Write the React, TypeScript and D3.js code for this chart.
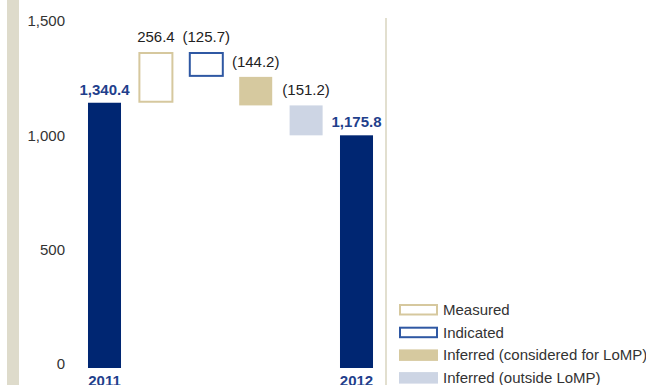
import React from "react";
import * as d3 from "d3";

const categories = ["2011", "Measured", "Indicated", "Inferred (considered for LoMP)", "Inferred (outside LoMP)", "2012"];
const kinds = ["total", "delta", "delta", "delta", "delta", "total"];
const values = [1340.4, 256.4, -125.7, -144.2, -151.2, 1175.8];
const valueLabels = ["1,340.4", "256.4", "(125.7)", "(144.2)", "(151.2)", "1,175.8"];
const tickValues = [0, 500, 1000, 1500];
const legendItems = ["Measured", "Indicated", "Inferred (considered for LoMP)", "Inferred (outside LoMP)"];

const W = 646;
const H = 385;
const FONT = "'Liberation Sans', Arial, Helvetica, sans-serif";

const styles: Record<string, { fill: string; stroke: string }> = {
  "2011": { fill: "#002672", stroke: "none" },
  "2012": { fill: "#002672", stroke: "none" },
  Measured: { fill: "#ffffff", stroke: "#d6c89e" },
  Indicated: { fill: "#ffffff", stroke: "#2f58a3" },
  "Inferred (considered for LoMP)": { fill: "#d6c99f", stroke: "none" },
  "Inferred (outside LoMP)": { fill: "#cdd5e4", stroke: "none" },
};

export default function App() {
  const x = d3
    .scaleBand<string>()
    .domain(categories)
    .range([79.3, 381.7])
    .paddingInner(0.345)
    .paddingOuter(0.1725);
  // data scale
  const y = d3.scaleLinear().domain([0, 1596.8]).range([368, 52]);
  // axis label scale
  const yAxis = d3.scaleLinear().domain([0, 1500]).range([364, 21]);

  let running = 0;
  const bars = categories.map((c, i) => {
    let lo: number, hi: number;
    if (kinds[i] === "total") {
      lo = 0;
      hi = values[i];
      running = values[i];
    } else {
      const start = running;
      const end = running + values[i];
      lo = Math.min(start, end);
      hi = Math.max(start, end);
      running = end;
    }
    return { c, i, lo, hi };
  });

  const bw = x.bandwidth();

  return (
    <svg width={W} height={H} style={{ position: "absolute", left: 0, top: 0 }}>
      <rect x={0} y={0} width={W} height={H} fill="#ffffff" />
      <rect x={7} y={0} width={12} height={H} fill="#dedbcb" />
      <line x1={386} x2={386} y1={18} y2={H} stroke="#e2dfcf" strokeWidth={2} />

      {tickValues.map((t) => (
        <text
          key={t}
          x={65}
          y={yAxis(t)}
          dy="0.35em"
          textAnchor="end"
          fontFamily={FONT}
          fontSize={15}
          fill="#333333"
        >
          {d3.format(",")(t)}
        </text>
      ))}

      {bars.map((b) => {
        const st = styles[b.c];
        const outlined = st.stroke !== "none";
        const x0 = x(b.c)!;
        const yTop = y(b.hi);
        const yBot = y(b.lo);
        const isTotal = kinds[b.i] === "total";
        return (
          <g key={b.c}>
            <rect
              x={outlined ? x0 + 1 : x0}
              y={outlined ? yTop + 1 : yTop}
              width={outlined ? bw - 2 + 2 : bw}
              height={outlined ? yBot - yTop - 2 : yBot - yTop}
              fill={st.fill}
              stroke={st.stroke}
              strokeWidth={2}
            />
            <text
              x={x0 + bw / 2 + (outlined ? 1 : 0)}
              y={yTop - (isTotal ? 8 : 10)}
              textAnchor="middle"
              fontFamily={FONT}
              fontSize={15}
              fontWeight={isTotal ? "bold" : "normal"}
              fill={isTotal ? "#1f3f8c" : "#222222"}
            >
              {valueLabels[b.i]}
            </text>
            {isTotal && (
              <text
                x={x0 + bw / 2}
                y={386}
                textAnchor="middle"
                fontFamily={FONT}
                fontSize={15}
                fontWeight="bold"
                fill="#1f3f8c"
              >
                {b.c}
              </text>
            )}
          </g>
        );
      })}

      {legendItems.map((item, i) => {
        const st = styles[item];
        const outlined = st.stroke !== "none";
        const yy = 304 + i * 22.7;
        return (
          <g key={item}>
            <rect
              x={outlined ? 400 : 399}
              y={outlined ? yy + 1 : yy}
              width={outlined ? 37 : 39}
              height={outlined ? 9.5 : 11.5}
              fill={st.fill}
              stroke={st.stroke}
              strokeWidth={2}
            />
            <text x={443} y={yy + 11} fontFamily={FONT} fontSize={15} fill="#333333">
              {item}
            </text>
          </g>
        );
      })}
    </svg>
  );
}
